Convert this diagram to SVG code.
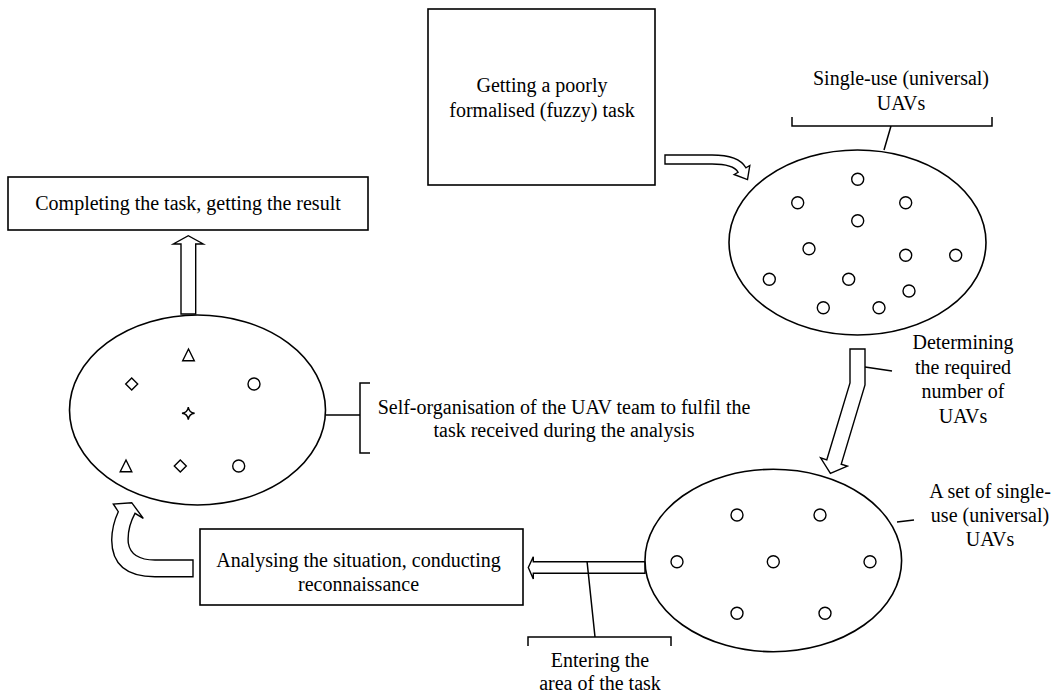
<svg xmlns="http://www.w3.org/2000/svg" width="1062" height="699" viewBox="0 0 1062 699">
<style>
.box{fill:#fff;stroke:#000;stroke-width:1.6}
.ell{fill:#fff;stroke:#000;stroke-width:1.6}
.arr{fill:#fff;stroke:#000;stroke-width:1.4;stroke-linejoin:miter}
.ln{fill:none;stroke:#000;stroke-width:1.5}
.dot{fill:#fff;stroke:#000;stroke-width:1.4}
text{font-family:"Liberation Serif","Times New Roman",serif;font-size:20px;fill:#000;text-anchor:middle}
</style>
<rect width="1062" height="699" fill="#fff"/>
<g id="connectors">
<path class="arr" d="M665,155 H712 Q738.6,155 745.9,167.75 L749.8,165.5 L747.5,179.6 L734.2,174.5 L738.1,172.25 Q733.4,164 712,164 H665 Z"/>
<path class="arr" d="M850,349 H865 V385 L841.2,464.2 L847.4,466.2 L830.4,473.4 L820.6,457.8 L826.8,459.8 L850,383 Z"/>
<path class="arr" d="M645,561.7 H533.3 V556.7 L528.3,567.5 L533.3,579 V573.3 H645 Z"/>
<path class="arr" d="M193,576.7 H155 Q112,576.7 111.7,540 Q112,525 118.3,511.7 L113.3,504 L131.7,502.7 L143.3,518.3 L135,513.3 Q127,528 128.3,543 Q131,560 155,560 H193 Z"/>
<path class="arr" d="M181,314 V244 H173.3 L188.3,235.7 L203.3,244 H195.7 V314 Z"/>
<path class="ln" d="M792,117 V126 H992 V117 M891,126 L884,150"/>
<path class="ln" d="M865,367 L892,371"/>
<path class="ln" d="M897,522 L914,520"/>
<path class="ln" d="M528,646 V637 H671 V646 M595,637 L587,561"/>
<path class="ln" d="M326,415 H360 M370,383 H360 V453 H370"/>
</g>
<g id="task-box">
<rect class="box" x="428" y="9" width="227" height="176"/>
<text x="542" y="92">Getting a poorly</text>
<text x="542" y="117">formalised (fuzzy) task</text>
</g>
<g id="uav-pool">
<ellipse class="ell" cx="857.5" cy="242.5" rx="128.5" ry="92.5"/>
<circle class="dot" cx="857.7" cy="179.3" r="6"/>
<circle class="dot" cx="797.7" cy="202.7" r="6"/>
<circle class="dot" cx="905.7" cy="202.7" r="6"/>
<circle class="dot" cx="857.7" cy="220.7" r="6"/>
<circle class="dot" cx="809" cy="248.7" r="6"/>
<circle class="dot" cx="905.7" cy="255.3" r="6"/>
<circle class="dot" cx="955.7" cy="255.3" r="6"/>
<circle class="dot" cx="769.3" cy="279.3" r="6"/>
<circle class="dot" cx="848.7" cy="279.3" r="6"/>
<circle class="dot" cx="909" cy="291" r="6"/>
<circle class="dot" cx="823.3" cy="307.7" r="6"/>
<circle class="dot" cx="879" cy="307.7" r="6"/>
</g>
<g id="label-pool">
<text x="901" y="85">Single-use (universal)</text>
<text x="901" y="110">UAVs</text>
</g>
<g id="label-determine">
<text x="963" y="349">Determining</text>
<text x="963" y="374">the required</text>
<text x="963" y="398">number of</text>
<text x="963" y="423">UAVs</text>
</g>
<g id="uav-set">
<ellipse class="ell" cx="773.3" cy="560.5" rx="128.3" ry="91.2"/>
<circle class="dot" cx="737" cy="515" r="6"/>
<circle class="dot" cx="820" cy="515" r="6"/>
<circle class="dot" cx="677" cy="561.7" r="6"/>
<circle class="dot" cx="773.3" cy="561.7" r="6"/>
<circle class="dot" cx="870" cy="561.7" r="6"/>
<circle class="dot" cx="737" cy="613.3" r="6"/>
<circle class="dot" cx="825" cy="613.3" r="6"/>
</g>
<g id="label-set">
<text x="990" y="498">A set of single-</text>
<text x="990" y="522">use (universal)</text>
<text x="990" y="546">UAVs</text>
</g>
<g id="label-entering">
<text x="600" y="667">Entering the</text>
<text x="600" y="690">area of the task</text>
</g>
<g id="analysis-box">
<rect class="box" x="200" y="529" width="323" height="76"/>
<text x="358.5" y="567">Analysing the situation, conducting</text>
<text x="358.5" y="591">reconnaissance</text>
</g>
<g id="team">
<ellipse class="ell" cx="197.5" cy="410" rx="128" ry="95"/>
<polygon class="dot" points="182.7,360.7 194.3,360.7 188.5,349"/>
<polygon class="dot" points="120.2,471.7 131.8,471.7 126,460"/>
<polygon class="dot" points="131.7,378 137.7,384 131.7,390 125.7,384"/>
<polygon class="dot" points="180.3,460 186.3,466 180.3,472 174.3,466"/>
<path class="dot" d="M188.3,407 Q189,412.6 194.6,413.3 Q189,414 188.3,419.6 Q187.6,414 182,413.3 Q187.6,412.6 188.3,407 Z"/>
<circle class="dot" cx="254" cy="384" r="6"/>
<circle class="dot" cx="238.7" cy="466" r="6"/>
</g>
<g id="label-self">
<text x="564" y="414">Self-organisation of the UAV team to fulfil the</text>
<text x="564" y="437">task received during the analysis</text>
</g>
<g id="result-box">
<rect class="box" x="8" y="177" width="360" height="53"/>
<text x="188" y="210">Completing the task, getting the result</text>
</g>
</svg>
